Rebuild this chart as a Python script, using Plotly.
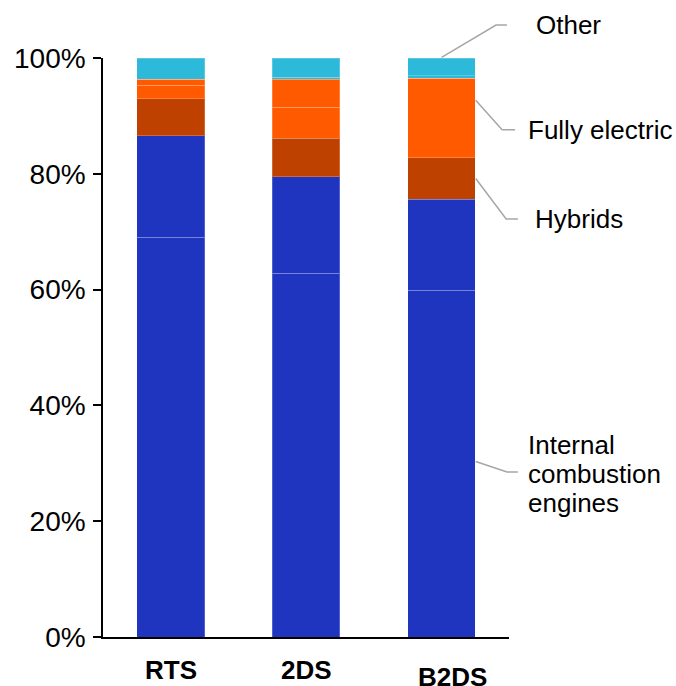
import plotly.graph_objects as go

# Scenario categories
scenarios = ["RTS", "2DS", "B2DS"]

# Share of vehicle stock by powertrain (%), each group stacked in sub-blocks
ice_lower = [69.0, 62.8, 59.9]
ice_upper = [17.6, 16.7, 15.7]
hybrids = [6.4, 6.6, 7.2]
electric_lower = [2.3, 5.4, 13.7]
electric_upper = [1.0, 4.8, 0.0]
other_lower = [0.0, 0.4, 0.4]
other_upper = [3.7, 3.3, 3.1]

y_ticks = [0, 20, 40, 60, 80, 100]
y_tick_text = ["0%", "20%", "40%", "60%", "80%", "100%"]

BLUE = "#1F35BF"
BROWN = "#BF4100"
ORANGE = "#FF5A00"
CYAN = "#2DB9D9"
FONT = "Liberation Sans, Arial, sans-serif"
FS = 26

series = [
    ("ice_lower", ice_lower, BLUE),
    ("ice_upper", ice_upper, BLUE),
    ("hybrids", hybrids, BROWN),
    ("electric_lower", electric_lower, ORANGE),
    ("electric_upper", electric_upper, ORANGE),
    ("other_lower", other_lower, CYAN),
    ("other_upper", other_upper, CYAN),
]

fig = go.Figure()
for name, vals, col in series:
    fig.add_trace(go.Bar(
        x=scenarios, y=vals, name=name,
        marker=dict(color=col, line=dict(color="rgba(255,255,255,0.22)", width=1)),
        hoverinfo="skip",
    ))

fig.update_layout(
    width=676, height=686,
    margin=dict(l=103, r=167, t=58, b=49),
    barmode="stack", bargap=0.5,
    plot_bgcolor="white", paper_bgcolor="white",
    showlegend=False,
    font=dict(family=FONT, size=FS, color="black"),
)
fig.update_xaxes(
    range=[-0.5, 2.5], showticklabels=False, ticks="",
    showline=True, linecolor="black", linewidth=1.5, showgrid=False, zeroline=False,
)
fig.update_yaxes(
    range=[0, 100], tickvals=y_ticks, ticktext=y_tick_text,
    ticks="outside", ticklen=8, tickcolor="black", tickwidth=1.5,
    showline=True, linecolor="black", linewidth=1.5, showgrid=False, zeroline=False,
    ticklabelstandoff=2, tickfont=dict(family=FONT, size=28),
)

# Scenario labels under the bars
label_shift = {"RTS": (0, 0), "2DS": (0, 0), "B2DS": (11, -7)}
for s in scenarios:
    dx, dy = label_shift[s]
    fig.add_annotation(
        x=s, xref="x", y=0, yref="paper", yanchor="top", yshift=-16 + dy, xshift=dx,
        text="<b>%s</b>" % s, showarrow=False, font=dict(family=FONT, size=FS),
    )

# Leader lines (paper coordinates)
leaders = [
    [(0.834, 1.001), (0.968, 1.057), (0.995, 1.057)],
    [(0.918, 0.927), (0.983, 0.876), (1.015, 0.876)],
    [(0.918, 0.792), (0.993, 0.722), (1.022, 0.722)],
    [(0.918, 0.303), (0.995, 0.285), (1.022, 0.285)],
]
for pts in leaders:
    path = "M %f %f " % pts[0] + " ".join("L %f %f" % p for p in pts[1:])
    fig.add_shape(type="path", path=path, xref="paper", yref="paper",
                  line=dict(color="#A6A6A6", width=1.5))

# Series labels on the right
series_labels = [
    ("Other", 535, 25),
    ("Fully electric", 527, 130),
    ("Hybrids", 534, 219),
    ("Internal", 527, 445),
    ("combustion", 527, 474),
    ("engines", 527, 503),
]
for txt, px, py in series_labels:
    fig.add_annotation(
        x=(px - 103) / 406, xref="paper", y=(637 - py) / 579, yref="paper",
        xanchor="left", yanchor="middle", text=txt, showarrow=False,
        font=dict(family=FONT, size=FS), borderpad=0,
    )

fig.write_html("out.html")
